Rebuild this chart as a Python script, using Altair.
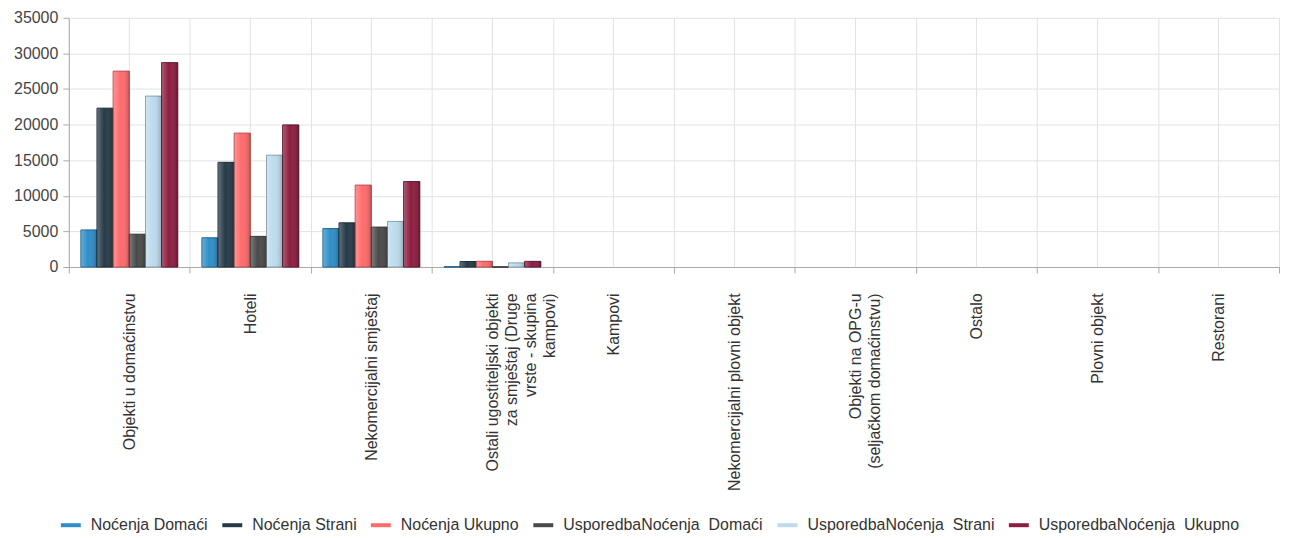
import altair as alt
import pandas as pd

categories = [
    "Objekti u domaćinstvu",
    "Hoteli",
    "Nekomercijalni smještaj",
    "Ostali ugostiteljski objekti\nza smještaj (Druge\nvrste - skupina\nkampovi)",
    "Kampovi",
    "Nekomercijalni plovni objekt",
    "Objekti na OPG-u\n(seljačkom domaćinstvu)",
    "Ostalo",
    "Plovni objekt",
    "Restorani",
]

series = [
    "Noćenja Domaći",
    "Noćenja Strani",
    "Noćenja Ukupno",
    "UsporedbaNoćenja\u00a0 Domaći",
    "UsporedbaNoćenja\u00a0 Strani",
    "UsporedbaNoćenja\u00a0 Ukupno",
]

nocenja_domaci = [5200, 4100, 5400, 30, 0, 0, 0, 0, 0, 0]
nocenja_strani = [22300, 14700, 6200, 770, 0, 0, 0, 0, 0, 0]
nocenja_ukupno = [27500, 18800, 11500, 800, 0, 0, 0, 0, 0, 0]
usp_domaci = [4600, 4300, 5600, 10, 0, 0, 0, 0, 0, 0]
usp_strani = [24000, 15700, 6400, 580, 0, 0, 0, 0, 0, 0]
usp_ukupno = [28700, 19950, 12000, 790, 0, 0, 0, 0, 0, 0]

colors = ["#2e8ec8", "#263a48", "#ff6b6b", "#4a4a4a", "#bddbed", "#8c1d3f"]

y_ticks = [0, 5000, 10000, 15000, 20000, 25000, 30000, 35000]

values = [nocenja_domaci, nocenja_strani, nocenja_ukupno, usp_domaci, usp_strani, usp_ukupno]
rows = []
for s, vals in zip(series, values):
    for c, v in zip(categories, vals):
        rows.append({"kategorija": c, "serija": s, "vrijednost": v})
df = pd.DataFrame(rows)
cat_df = pd.DataFrame({"kategorija": categories})

FONT = "Liberation Sans"
GRID = "#e2e2e2"
AXIS = "#aaaaaa"

x_enc = alt.X(
    "kategorija:N",
    sort=categories,
    scale=alt.Scale(domain=categories, paddingInner=0, paddingOuter=0),
    axis=alt.Axis(
        title=None,
        labelAngle=270,
        labelFontSize=16,
        labelColor="#333333",
        labelLineHeight=19,
        labelPadding=20,
        labelExpr="split(datum.label, '\\n')",
        tickBand="extent",
        tickSize=6,
        tickColor=AXIS,
        domainColor=AXIS,
        gridColor=GRID,
        grid=True,
        labelLimit=400,
    ),
)

y_enc = alt.Y(
    "vrijednost:Q",
    scale=alt.Scale(domain=[0, 35000], nice=False),
    axis=alt.Axis(
        title=None,
        values=y_ticks,
        format="d",
        labelFontSize=16,
        labelColor="#444444",
        labelPadding=5,
        tickSize=6,
        tickColor=AXIS,
        domainColor=AXIS,
        gridColor=GRID,
    ),
)

xoff = alt.XOffset(
    "serija:N",
    sort=series,
    scale=alt.Scale(domain=series, paddingOuter=0.75, paddingInner=0),
)

center_rules = alt.Chart(cat_df).mark_rule(color=GRID, strokeWidth=1).encode(
    x=x_enc,
    y=alt.value(0),
    y2=alt.value(250),
)

leg = alt.Legend(
    orient="none",
    legendX=-10,
    legendY=497,
    direction="horizontal",
    title=None,
    symbolType="stroke",
    symbolStrokeWidth=4,
    symbolSize=400,
    labelFontSize=16,
    labelColor="#333333",
    labelOffset=8,
    columnPadding=6,
    labelLimit=400,
)

bars_base = alt.Chart(df).transform_filter("datum.vrijednost > 0")

bars = bars_base.mark_bar(strokeWidth=1).encode(
    x=x_enc,
    xOffset=xoff,
    y=y_enc,
    color=alt.Color("serija:N", sort=series, scale=alt.Scale(domain=series, range=colors), legend=leg),
    stroke=alt.Stroke("serija:N", sort=series, scale=alt.Scale(domain=series, range=colors), legend=leg),
)

overlay = bars_base.mark_bar(
    fill=alt.Gradient(
        gradient="linear",
        x1=0, x2=1, y1=0, y2=0,
        stops=[
            alt.GradientStop(offset=0, color="rgba(255,255,255,0.28)"),
            alt.GradientStop(offset=0.45, color="rgba(255,255,255,0.0)"),
            alt.GradientStop(offset=1, color="rgba(0,0,0,0.22)"),
        ],
    ),
    stroke="rgba(0,0,0,0.28)",
    strokeWidth=1,
).encode(
    x=x_enc,
    xOffset=xoff,
    y=y_enc,
)

chart = (
    alt.layer(center_rules, bars, overlay)
    .properties(width=1214, height=250, padding={"left": 5, "top": 1, "right": 2, "bottom": 2})
    .configure(font=FONT)
    .configure_view(stroke=None)
)

chart.save("out.html", embed_options={"renderer": "svg", "actions": False})
